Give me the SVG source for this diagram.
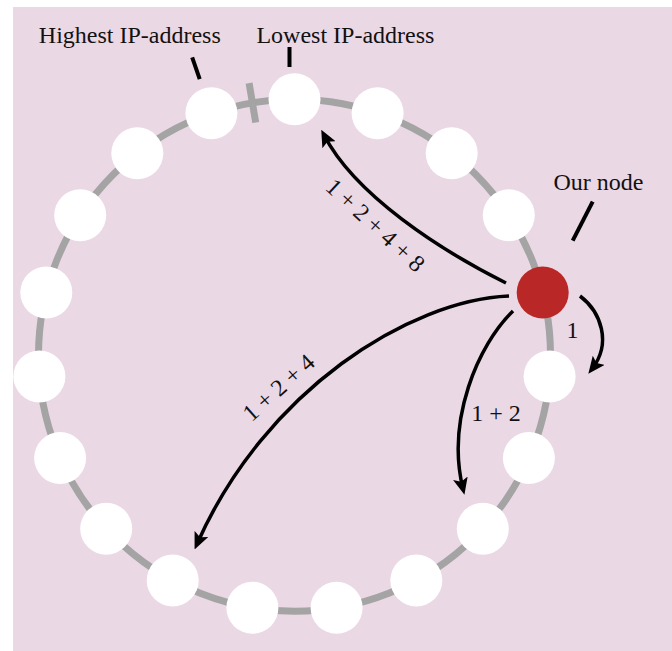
<svg xmlns="http://www.w3.org/2000/svg" width="672" height="651" viewBox="0 0 672 651">
<style>
.bg{fill:#ebd8e5}
.ring{fill:none;stroke:#a4a4a4;stroke-width:7}
.tick{stroke:#a4a4a4;stroke-width:7}
.node{fill:#ffffff}
.ours{fill:#b92826}
.ptr{stroke:#000;stroke-width:4;fill:none}
.arr{stroke:#000;stroke-width:3.5;fill:none;marker-end:url(#ah)}
.lbl{font-family:"Liberation Serif","Times New Roman",serif;font-size:24px;fill:#111}
</style>
<defs>
<marker id="ah" markerUnits="userSpaceOnUse" markerWidth="17" markerHeight="15" refX="11" refY="7.5" orient="auto">
<path d="M0,0 L17,7.5 L0,15 L3.5,7.5 z" fill="#000"/>
</marker>
</defs>
<rect class="bg" x="13" y="7" width="659" height="644"/>
<g id="ring">
<circle class="ring" cx="294.5" cy="355.3" r="256"/>
<line class="tick" x1="255.7" y1="122.5" x2="249.1" y2="83.1"/>
</g>
<g id="connectors">
<path class="arr" d="M580,296 C601,312 612,343 592,369"/>
<path class="arr" d="M513,311 C478,345 446,420 463,489"/>
<path class="arr" d="M509,296 C410,300 265,390 197,544"/>
<path class="arr" d="M506,283 C440,250 355,195 324,135"/>
<line class="ptr" x1="199.7" y1="79.1" x2="192.2" y2="57.4"/>
<line class="ptr" x1="289.5" y1="67" x2="289.5" y2="47"/>
<line class="ptr" x1="592.7" y1="201.7" x2="572.7" y2="240.7"/>
</g>
<g id="n0"><circle class="node" cx="294.5" cy="99.3" r="26"/></g>
<g id="n1"><circle class="node" cx="377.6" cy="113.2" r="26"/></g>
<g id="n2"><circle class="node" cx="451.7" cy="153.3" r="26"/></g>
<g id="n3"><circle class="node" cx="508.8" cy="215.3" r="26"/></g>
<g id="our-node"><circle class="ours" cx="542.7" cy="292.5" r="26"/></g>
<g id="n5"><circle class="node" cx="549.6" cy="376.4" r="26"/></g>
<g id="n6"><circle class="node" cx="528.9" cy="458.1" r="26"/></g>
<g id="n7"><circle class="node" cx="482.8" cy="528.7" r="26"/></g>
<g id="n8"><circle class="node" cx="416.3" cy="580.4" r="26"/></g>
<g id="n9"><circle class="node" cx="336.6" cy="607.8" r="26"/></g>
<g id="n10"><circle class="node" cx="252.4" cy="607.8" r="26"/></g>
<g id="n11"><circle class="node" cx="172.7" cy="580.4" r="26"/></g>
<g id="n12"><circle class="node" cx="106.2" cy="528.7" r="26"/></g>
<g id="n13"><circle class="node" cx="60.1" cy="458.1" r="26"/></g>
<g id="n14"><circle class="node" cx="39.4" cy="376.4" r="26"/></g>
<g id="n15"><circle class="node" cx="46.3" cy="292.5" r="26"/></g>
<g id="n16"><circle class="node" cx="80.2" cy="215.3" r="26"/></g>
<g id="n17"><circle class="node" cx="137.3" cy="153.3" r="26"/></g>
<g id="n18"><circle class="node" cx="211.4" cy="113.2" r="26"/></g>
<g id="labels">
<text class="lbl" x="38.8" y="43.3">Highest IP-address</text>
<text class="lbl" x="256.4" y="43.3">Lowest IP-address</text>
<text class="lbl" x="553.5" y="190">Our node</text>
<text class="lbl" x="566.5" y="338">1</text>
<text class="lbl" x="471.3" y="421">1 + 2</text>
<text class="lbl" x="284" y="393.5" text-anchor="middle" transform="rotate(-41.8 284 393.5)">1 + 2 + 4</text>
<text class="lbl" x="370" y="231" text-anchor="middle" transform="rotate(42.8 370 231)">1 + 2 + 4 + 8</text>
</g>
</svg>
